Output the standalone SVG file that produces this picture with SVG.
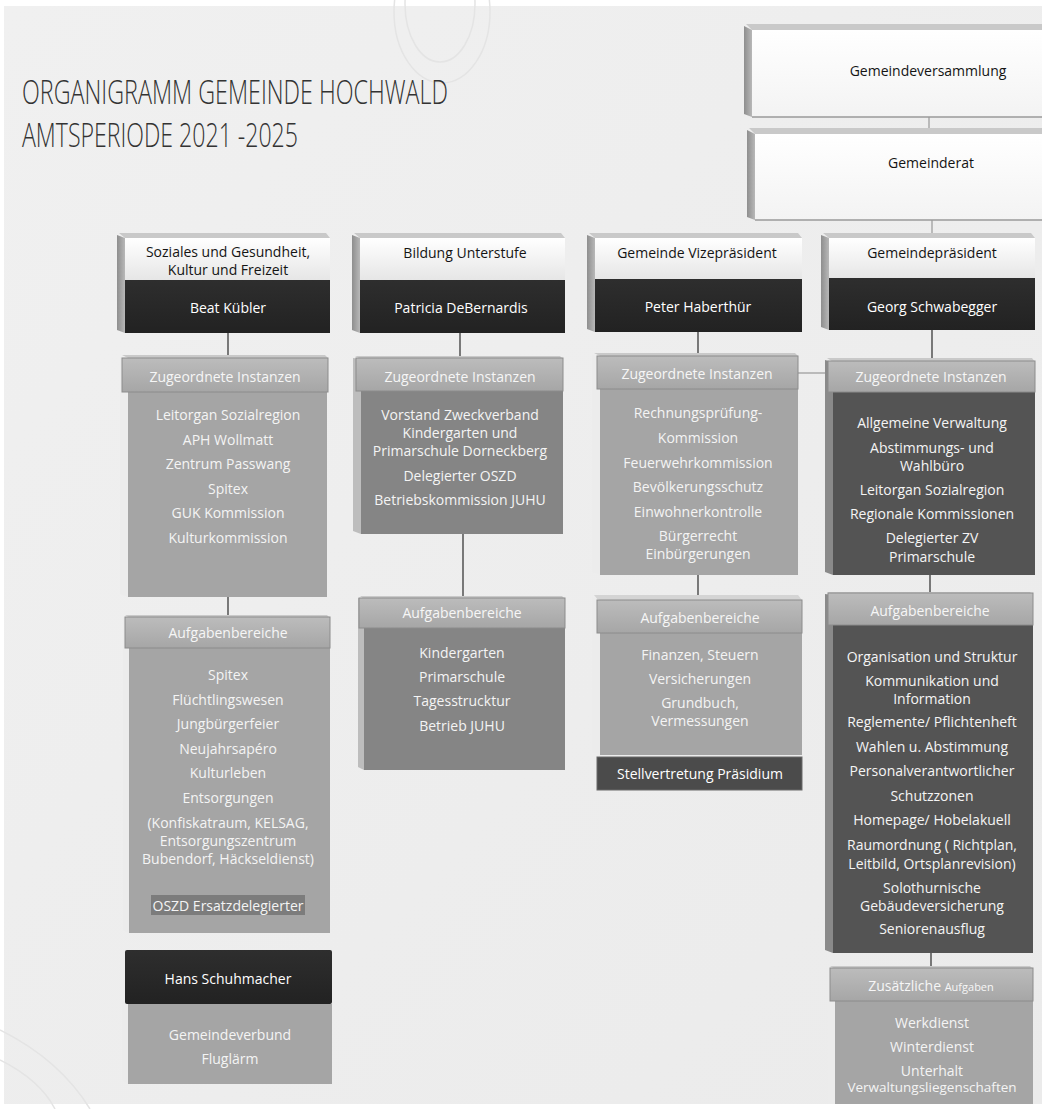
<svg xmlns="http://www.w3.org/2000/svg" width="1042" height="1109" viewBox="0 0 1042 1109">
<defs>
<linearGradient id="bg" x1="0" y1="0" x2="1" y2="1">
<stop offset="0" stop-color="#f0f0f0"/><stop offset="1" stop-color="#ebebeb"/>
</linearGradient>
<linearGradient id="light" x1="0" y1="0" x2="0" y2="1">
<stop offset="0" stop-color="#ffffff"/><stop offset="1" stop-color="#e6e6e6"/>
</linearGradient>
<linearGradient id="bigLight" x1="0" y1="0" x2="0" y2="1">
<stop offset="0" stop-color="#ffffff"/><stop offset="1" stop-color="#f3f3f3"/>
</linearGradient>
<linearGradient id="side" x1="0" y1="0" x2="1" y2="0">
<stop offset="0" stop-color="#8e8e8e"/><stop offset="1" stop-color="#b8b8b8"/>
</linearGradient>
<linearGradient id="bar" x1="0" y1="0" x2="0" y2="1">
<stop offset="0" stop-color="#bcbcbc"/><stop offset="1" stop-color="#a6a6a6"/>
</linearGradient>
<linearGradient id="dark" x1="0" y1="0" x2="0" y2="1">
<stop offset="0" stop-color="#2e2e2e"/><stop offset="1" stop-color="#222222"/>
</linearGradient>
</defs>
<style>
text{font-family:'Open Sans','Noto Sans','DejaVu Sans',sans-serif;text-anchor:middle}
.w{fill:#f4f4f4;font-size:14px}
.b{fill:#141414;font-size:14px}
.n{fill:#ffffff;font-size:14px}
.h{fill:#f6f6f6;font-size:14px}
.top{fill:#c9c9c9}
.sideL{fill:url(#side)}
.sideW{fill:#ececec}
.sideG{fill:#8a8a8a}
.front{fill:url(#light)}
.dk{fill:url(#dark)}
.bar{fill:url(#bar);stroke:#8c8c8c;stroke-width:1}
.b1{fill:#a5a5a5}
.b2{fill:#858585}
.b4{fill:#545454}
.con{stroke:#2a2a2a;stroke-width:1.2;fill:none}
.cong{stroke:#a9a9a9;stroke-width:1.5;fill:none}
.title{font-family:'Open Sans','Noto Sans','DejaVu Sans',sans-serif;font-weight:300;font-size:33px;fill:#333333;text-anchor:start}
</style>

<rect x="4" y="6" width="1038" height="1098" fill="url(#bg)"/>
<g fill="none" stroke="#e4e4e4" stroke-width="1.5">
<ellipse cx="442" cy="12" rx="48" ry="71"/>
<ellipse cx="440" cy="4" rx="35" ry="58"/>
<path d="M0,1030 Q60,1060 90,1109" />
<path d="M0,1060 Q40,1080 55,1109" />
</g>

<text class="title" x="22" y="104" textLength="426" lengthAdjust="spacingAndGlyphs">ORGANIGRAMM GEMEINDE HOCHWALD</text>
<text class="title" x="22" y="147" textLength="276" lengthAdjust="spacingAndGlyphs">AMTSPERIODE 2021 -2025</text>

<g id="connectors">
<line class="cong" x1="929" y1="117" x2="929" y2="130"/>
<line class="cong" x1="932" y1="220" x2="932" y2="234"/>
<line class="con" x1="228" y1="333" x2="228" y2="355"/>
<line class="con" x1="228" y1="597" x2="228" y2="616"/>
<line class="con" x1="460" y1="333" x2="460" y2="356"/>
<line class="con" x1="463" y1="534" x2="463" y2="596"/>
<line class="con" x1="698" y1="332" x2="698" y2="354"/>
<line class="con" x1="698" y1="575" x2="698" y2="596"/>
<line class="cong" x1="798" y1="373" x2="826" y2="373" stroke-width="2"/>
<line class="con" x1="932" y1="330" x2="932" y2="359"/>
<line class="con" x1="930" y1="575" x2="930" y2="593"/>
<line class="con" x1="931" y1="953" x2="931" y2="967"/>
<line class="con" x1="932" y1="437" x2="932" y2="457"/>
<line class="con" x1="936" y1="676" x2="936" y2="697"/>
</g>

<g id="gemeindeversammlung">
<polygon class="top" points="746,24 1042,24 1042,30 752,30"/>
<polygon class="sideL" points="744,26 752,30 752,117 744,114"/>
<rect x="752" y="30" width="290" height="87" fill="url(#bigLight)"/>
<line x1="752" y1="117" x2="1042" y2="117" stroke="#9a9a9a" stroke-width="1.5"/>
<text class="b" x="928" y="76">Gemeindeversammlung</text>
</g>

<g id="gemeinderat">
<polygon class="top" points="749,128 1042,128 1042,134 755,134"/>
<polygon class="sideL" points="747,130 755,134 755,220 747,217"/>
<rect x="755" y="134" width="287" height="86" fill="url(#bigLight)"/>
<line x1="755" y1="220" x2="1042" y2="220" stroke="#9a9a9a" stroke-width="1.5"/>
<text class="b" x="931" y="168">Gemeinderat</text>
</g>

<!-- Column 1 -->
<g id="soziales">
<polygon class="top" points="119,233 326,233 330,238 125,238"/>
<polygon class="sideL" points="117,235 125,238 125,333 117,330"/>
<rect class="front" x="125" y="238" width="205" height="42"/>
<rect class="dk" x="125" y="280" width="205" height="53"/>
<text class="b" x="228" y="257">Soziales und Gesundheit,<tspan x="228" dy="17.5">Kultur und Freizeit</tspan></text>
<text class="n" x="228" y="313">Beat Kübler</text>
</g>

<g id="instanzen-soziales">
<polygon class="top" points="122,355 325,355 328,358 128,358"/>
<polygon class="sideW" points="120,357 128,358 128,597 120,594"/>
<rect class="b1" x="128" y="358" width="199" height="239"/>
<rect class="bar" x="122" y="358" width="206" height="34"/>
<text class="h" x="225" y="382">Zugeordnete Instanzen</text>
<text class="w" x="228" y="420">Leitorgan Sozialregion</text>
<text class="w" x="228" y="445">APH Wollmatt</text>
<text class="w" x="228" y="469">Zentrum Passwang</text>
<text class="w" x="228" y="494">Spitex</text>
<text class="w" x="228" y="518">GUK Kommission</text>
<text class="w" x="228" y="543">Kulturkommission</text>
</g>

<g id="aufgaben-soziales">
<polygon class="top" points="125,615 327,615 330,618 130,618"/>
<polygon class="sideW" points="123,617 129,618 129,933 123,930"/>
<rect class="b1" x="129" y="618" width="201" height="315"/>
<rect class="bar" x="125" y="617" width="205" height="31"/>
<text class="h" x="228" y="638">Aufgabenbereiche</text>
<text class="w" x="228" y="680">Spitex</text>
<text class="w" x="228" y="705">Flüchtlingswesen</text>
<text class="w" x="228" y="729">Jungbürgerfeier</text>
<text class="w" x="228" y="754">Neujahrsapéro</text>
<text class="w" x="228" y="778">Kulturleben</text>
<text class="w" x="228" y="803">Entsorgungen</text>
<text class="w" x="228" y="828">(Konfiskatraum, KELSAG,<tspan x="228" dy="17.5">Entsorgungszentrum</tspan><tspan x="228" dy="18">Bubendorf, Häckseldienst)</tspan></text>
<rect x="151" y="895" width="154" height="20" fill="#7c7c7c"/>
<text class="w" x="228" y="911">OSZD Ersatzdelegierter</text>
</g>

<g id="hans-schuhmacher">
<polygon class="sideW" points="122,1000 128,1004 128,1084 122,1080"/>
<rect class="b1" x="128" y="1004" width="204" height="80"/>
<rect class="dk" x="125" y="950" width="207" height="54" rx="2"/>
<text class="n" x="228" y="984">Hans Schuhmacher</text>
<text class="w" x="230" y="1040">Gemeindeverbund</text>
<text class="w" x="230" y="1064">Fluglärm</text>
</g>

<!-- Column 2 -->
<g id="bildung">
<polygon class="top" points="354,233 561,233 565,238 360,238"/>
<polygon class="sideL" points="352,235 360,238 360,333 352,330"/>
<rect class="front" x="360" y="238" width="205" height="42"/>
<rect class="dk" x="360" y="280" width="205" height="53"/>
<text class="b" x="465" y="258">Bildung Unterstufe</text>
<text class="n" x="461" y="313">Patricia DeBernardis</text>
</g>

<g id="instanzen-bildung">
<polygon class="top" points="355,356 560,356 563,359 361,359"/>
<polygon points="353,358 361,359 361,534 353,531" fill="#bdbdbd"/>
<rect class="b2" x="361" y="359" width="202" height="175"/>
<rect class="bar" x="356" y="358" width="207" height="33"/>
<text class="h" x="460" y="382">Zugeordnete Instanzen</text>
<text class="w" x="460" y="420">Vorstand Zweckverband<tspan x="460" dy="17.5">Kindergarten und</tspan><tspan x="460" dy="18.5">Primarschule Dorneckberg</tspan></text>
<text class="w" x="460" y="481">Delegierter OSZD</text>
<text class="w" x="460" y="505">Betriebskommission JUHU</text>
</g>

<g id="aufgaben-bildung">
<polygon class="top" points="360,596 562,596 565,599 364,599"/>
<polygon points="358,598 364,599 364,770 358,767" fill="#bdbdbd"/>
<rect class="b2" x="364" y="599" width="201" height="171"/>
<rect class="bar" x="359" y="598" width="206" height="30"/>
<text class="h" x="462" y="618">Aufgabenbereiche</text>
<text class="w" x="462" y="658">Kindergarten</text>
<text class="w" x="462" y="682">Primarschule</text>
<text class="w" x="462" y="706">Tagesstrucktur</text>
<text class="w" x="462" y="731">Betrieb JUHU</text>
</g>

<!-- Column 3 -->
<g id="vizepraesident">
<polygon class="top" points="589,233 798,233 802,238 595,238"/>
<polygon class="sideL" points="587,235 595,238 595,332 587,329"/>
<rect class="front" x="595" y="238" width="207" height="41"/>
<rect class="dk" x="595" y="279" width="207" height="53"/>
<text class="b" x="697" y="258">Gemeinde Vizepräsident</text>
<text class="n" x="698" y="312">Peter Haberthür</text>
</g>

<g id="instanzen-vize">
<polygon class="top" points="594,353 795,353 798,356 600,356"/>
<polygon class="sideW" points="592,355 600,356 600,575 592,572"/>
<rect class="b1" x="600" y="356" width="198" height="219"/>
<rect class="bar" x="597" y="356" width="201" height="33"/>
<text class="h" x="697" y="379">Zugeordnete Instanzen</text>
<text class="w" x="698" y="418">Rechnungsprüfung-</text>
<text class="w" x="698" y="443">Kommission</text>
<text class="w" x="698" y="468">Feuerwehrkommission</text>
<text class="w" x="698" y="492">Bevölkerungsschutz</text>
<text class="w" x="698" y="517">Einwohnerkontrolle</text>
<text class="w" x="698" y="541">Bürgerrecht<tspan x="698" dy="17.5">Einbürgerungen</tspan></text>
</g>

<g id="aufgaben-vize">
<polygon points="594,595 798,595 802,600 598,600" fill="#d4d4d4"/>
<polygon class="sideW" points="592,597 600,600 600,755 592,752"/>
<rect class="b1" x="600" y="600" width="202" height="155"/>
<rect class="bar" x="597" y="600" width="205" height="33"/>
<text class="h" x="700" y="623">Aufgabenbereiche</text>
<text class="w" x="700" y="660">Finanzen, Steuern</text>
<text class="w" x="700" y="684">Versicherungen</text>
<text class="w" x="700" y="708">Grundbuch,<tspan x="700" dy="17.5">Vermessungen</tspan></text>
</g>

<g id="stellvertretung">
<rect x="597" y="757" width="205" height="33" fill="#4b4b4b" stroke="#6a6a6a" stroke-width="1"/>
<text class="n" x="700" y="779" font-size="11.5px">Stellvertretung Präsidium</text>
</g>

<!-- Column 4 -->
<g id="praesident">
<polygon class="top" points="823,233 1031,233 1035,238 829,238"/>
<polygon class="sideL" points="821,235 829,238 829,330 821,327"/>
<rect class="front" x="829" y="238" width="206" height="40"/>
<rect class="dk" x="829" y="278" width="206" height="52"/>
<text class="b" x="932" y="258">Gemeindepräsident</text>
<text class="n" x="932" y="312">Georg Schwabegger</text>
</g>

<g id="instanzen-praesident">
<polygon class="top" points="827,358 1032,358 1035,362 833,362"/>
<polygon class="sideG" points="825,360 833,362 833,575 825,572"/>
<rect class="b4" x="833" y="362" width="202" height="213"/>
<rect class="bar" x="828" y="361" width="207" height="31"/>
<text class="h" x="931" y="382">Zugeordnete Instanzen</text>
<text class="w" x="932" y="428">Allgemeine Verwaltung</text>
<text class="w" x="932" y="453">Abstimmungs- und<tspan x="932" dy="17.5">Wahlbüro</tspan></text>
<text class="w" x="932" y="495">Leitorgan Sozialregion</text>
<text class="w" x="932" y="519">Regionale Kommissionen</text>
<text class="w" x="932" y="543">Delegierter ZV<tspan x="932" dy="19">Primarschule</tspan></text>
</g>

<g id="aufgaben-praesident">
<polygon class="top" points="827,592 1030,592 1033,595 833,595"/>
<polygon class="sideG" points="825,594 833,595 833,953 825,950"/>
<rect class="b4" x="833" y="595" width="200" height="358"/>
<rect class="bar" x="828" y="593" width="205" height="32"/>
<text class="h" x="930" y="616">Aufgabenbereiche</text>
<text class="w" x="932" y="662">Organisation und Struktur</text>
<text class="w" x="932" y="686">Kommunikation und<tspan x="932" dy="17.5">Information</tspan></text>
<text class="w" x="932" y="727">Reglemente/ Pflichtenheft</text>
<text class="w" x="932" y="752">Wahlen u. Abstimmung</text>
<text class="w" x="932" y="776">Personalverantwortlicher</text>
<text class="w" x="932" y="801">Schutzzonen</text>
<text class="w" x="932" y="825">Homepage/ Hobelakuell</text>
<text class="w" x="932" y="850">Raumordnung ( Richtplan,<tspan x="932" dy="19">Leitbild, Ortsplanrevision)</tspan></text>
<text class="w" x="932" y="893">Solothurnische<tspan x="932" dy="17.5">Gebäudeversicherung</tspan></text>
<text class="w" x="932" y="934">Seniorenausflug</text>
</g>

<g id="zusaetzliche">
<polygon class="top" points="830,966 1030,966 1033,969 835,969"/>
<polygon class="sideW" points="828,968 835,969 835,1104 828,1104"/>
<rect class="b1" x="835" y="969" width="198" height="135"/>
<rect class="bar" x="830" y="968" width="203" height="33"/>
<text class="h" x="931" y="991">Zusätzliche <tspan font-size="11px">Aufgaben</tspan></text>
<text class="w" x="932" y="1028">Werkdienst</text>
<text class="w" x="932" y="1052">Winterdienst</text>
<text class="w" x="932" y="1076">Unterhalt<tspan x="932" dy="16" font-size="13.5px">Verwaltungsliegenschaften</tspan></text>
</g>
</svg>
